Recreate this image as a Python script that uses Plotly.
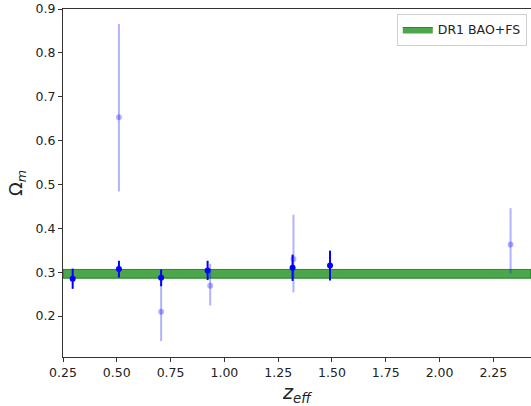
import plotly.graph_objects as go

# BAO-only (dark) measurements
z_dark = [0.295, 0.51, 0.706, 0.922, 1.317, 1.491]
om_dark = [0.285, 0.307, 0.287, 0.304, 0.310, 0.315]
err_dark = [0.023, 0.019, 0.019, 0.022, 0.030, 0.034]

# faint measurements
z_faint = [0.51, 0.706, 0.934, 1.321, 2.33]
om_faint = [0.653, 0.210, 0.269, 0.330, 0.363]
errp_faint = [0.213, 0.067, 0.050, 0.101, 0.083]
errm_faint = [0.169, 0.067, 0.045, 0.076, 0.066]

# DR1 BAO+FS band
band_lo = 0.2862
band_hi = 0.3062
band_label = "DR1 BAO+FS"

x_range = [0.25, 2.425]
y_range = [0.1066, 0.9]
x_ticks = [0.25, 0.50, 0.75, 1.00, 1.25, 1.50, 1.75, 2.00, 2.25]
y_ticks = [0.2, 0.3, 0.4, 0.5, 0.6, 0.7, 0.8, 0.9]

FONT = "DejaVu Sans, Verdana, sans-serif"

fig = go.Figure()

fig.add_trace(go.Scatter(
    x=[x_range[0], x_range[1], x_range[1], x_range[0], x_range[0]],
    y=[band_lo, band_lo, band_hi, band_hi, band_lo],
    fill="toself", mode="lines",
    fillcolor="rgba(0,128,0,0.7)",
    line=dict(color="rgba(0,110,0,0.75)", width=1),
    name=band_label, showlegend=True, hoverinfo="skip",
))

fig.add_trace(go.Scatter(
    x=z_faint, y=om_faint, mode="markers",
    marker=dict(color="rgba(0,0,255,0.3)", size=6),
    error_y=dict(type="data", symmetric=False, array=errp_faint, arrayminus=errm_faint,
                 color="rgba(0,0,255,0.3)", thickness=2, width=0),
    showlegend=False,
))

fig.add_trace(go.Scatter(
    x=z_dark, y=om_dark, mode="markers",
    marker=dict(color="rgb(0,0,255)", size=6),
    error_y=dict(type="data", array=err_dark, color="rgb(0,0,255)", thickness=2, width=0),
    showlegend=False,
))

fig.update_layout(
    width=531, height=406,
    margin=dict(l=63, r=0, t=9, b=49),
    paper_bgcolor="white", plot_bgcolor="white",
    font=dict(family=FONT, size=12.5, color="#222"),
    showlegend=True,
    legend=dict(
        x=0.991, y=0.986, xanchor="right", yanchor="top",
        bgcolor="rgba(255,255,255,0.8)", bordercolor="#d0d0d0", borderwidth=1,
        font=dict(family=FONT, size=12.5, color="#222"),
        itemwidth=30,
    ),
    xaxis=dict(
        range=x_range, tickvals=x_ticks, tickformat=".2f",
        showgrid=False, zeroline=False,
        showline=True, linecolor="#333", linewidth=1, mirror=True,
        ticks="outside", ticklen=4, tickcolor="#333",
        title=dict(text="<i>z<sub>eff</sub></i>", font=dict(family=FONT, size=19, color="#222"),
                   standoff=8),
    ),
    yaxis=dict(
        range=y_range, tickvals=y_ticks, tickformat=".1f",
        showgrid=False, zeroline=False,
        showline=True, linecolor="#333", linewidth=1,
        ticks="outside", ticklen=4, tickcolor="#333",
        title=dict(text="Ω<sub><i>m</i></sub>", font=dict(family=FONT, size=18, color="#222"),
                   standoff=8),
    ),
)

fig.write_html("out.html")
